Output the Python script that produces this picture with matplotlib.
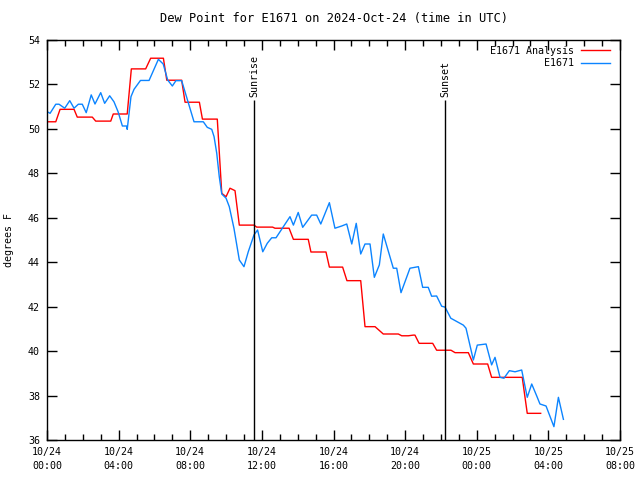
import numpy as np
import pandas as pd
import matplotlib
matplotlib.use("Agg")
import matplotlib.pyplot as plt
import matplotlib.dates as mdates

# Configuration
TITLE = "Dew Point for E1671 on 2024-Oct-24 (time in UTC)"
START = pd.Timestamp("2024-10-24 00:00")
END = pd.Timestamp("2024-10-25 08:00")
Y_MIN, Y_MAX = 36, 54

# Hours after 10/24 00:00 UTC, values in degrees F
analysis_hours = [0.00, 0.49, 0.73, 1.51, 1.69, 2.53, 2.72, 3.56, 3.70, 4.48,
                  4.71, 5.51, 5.79, 6.50, 6.69, 7.52, 7.71, 8.51, 8.68, 9.51,
                  9.76, 10.00, 10.22, 10.50, 10.74, 11.56, 11.71, 12.60, 12.73, 13.52,
                  13.76, 14.59, 14.74, 15.58, 15.77, 16.51, 16.75, 17.52, 17.76, 18.32,
                  18.78, 19.62, 19.81, 20.18, 20.46, 20.55, 20.78, 21.54, 21.76, 22.56,
                  22.79, 23.53, 23.81, 24.61, 24.83, 26.54, 26.82, 27.57]
analysis_vals = [50.32, 50.32, 50.88, 50.88, 50.53, 50.53, 50.35, 50.35, 50.67, 50.67,
                 52.70, 52.70, 53.18, 53.18, 52.19, 52.19, 51.20, 51.20, 50.44, 50.44,
                 47.10, 46.95, 47.33, 47.22, 45.67, 45.67, 45.58, 45.58, 45.53, 45.53,
                 45.03, 45.03, 44.46, 44.46, 43.78, 43.78, 43.17, 43.17, 41.10, 41.10,
                 40.77, 40.77, 40.69, 40.69, 40.72, 40.72, 40.35, 40.35, 40.04, 40.04,
                 39.93, 39.93, 39.42, 39.42, 38.82, 38.82, 37.20, 37.20]

obs_hours = [0.02, 0.17, 0.49, 0.67, 0.99, 1.27, 1.51, 1.75, 1.97, 2.19,
             2.47, 2.68, 3.00, 3.22, 3.50, 3.74, 3.97, 4.21, 4.45, 4.48,
             4.69, 4.86, 5.22, 5.70, 6.22, 6.49, 6.74, 7.00, 7.20, 7.52,
             7.89, 8.21, 8.73, 8.95, 9.20, 9.33, 9.48, 9.62, 9.76, 10.00,
             10.18, 10.44, 10.74, 11.00, 11.24, 11.56, 11.76, 12.05, 12.30, 12.55,
             12.79, 13.57, 13.76, 14.03, 14.28, 14.78, 15.06, 15.29, 15.77, 16.08,
             16.46, 16.74, 17.02, 17.27, 17.52, 17.76, 18.04, 18.28, 18.56, 18.78,
             19.34, 19.53, 19.77, 20.27, 20.74, 20.98, 21.29, 21.48, 21.76, 22.04,
             22.23, 22.55, 23.25, 23.40, 23.81, 24.03, 24.52, 24.83, 25.02, 25.30,
             25.52, 25.82, 26.14, 26.51, 26.82, 27.07, 27.35, 27.53, 27.87, 28.31,
             28.56, 28.84]
obs_vals = [50.77, 50.70, 51.11, 51.11, 50.93, 51.27, 50.93, 51.11, 51.11, 50.73,
            51.53, 51.12, 51.63, 51.15, 51.49, 51.22, 50.77, 50.13, 50.13, 49.98,
            51.45, 51.78, 52.18, 52.18, 53.13, 52.92, 52.20, 51.93, 52.17, 52.17,
            51.18, 50.32, 50.32, 50.07, 49.98, 49.65, 48.90, 47.85, 47.07, 46.88,
            46.50, 45.53, 44.10, 43.80, 44.47, 45.23, 45.45, 44.47, 44.85, 45.10,
            45.10, 46.05, 45.67, 46.24, 45.57, 46.12, 46.12, 45.72, 46.68, 45.53,
            45.63, 45.72, 44.82, 45.75, 44.37, 44.82, 44.82, 43.32, 43.88, 45.27,
            43.73, 43.73, 42.63, 43.73, 43.80, 42.87, 42.87, 42.47, 42.48, 42.02,
            41.98, 41.48, 41.17, 41.03, 39.60, 40.27, 40.32, 39.38, 39.72, 38.82,
            38.78, 39.12, 39.07, 39.15, 37.92, 38.52, 37.98, 37.62, 37.53, 36.60,
            37.92, 36.93]

sun_labels = ["Sunrise", "Sunset"]
sun_hours = [11.56, 22.23]
SUN_LINE_TOP = 51.3

RED = "#ff0000"
BLUE = "#0b84ff"

plt.rcParams["font.family"] = "DejaVu Sans Mono"
plt.rcParams["font.size"] = 7.2

t_analysis = START + pd.to_timedelta(analysis_hours, unit="h")
t_obs = START + pd.to_timedelta(obs_hours, unit="h")
t_sun = START + pd.to_timedelta(sun_hours, unit="h")

fig = plt.figure(figsize=(6.4, 4.8), dpi=100)
ax = fig.add_axes([47 / 640, 40 / 480, 573 / 640, 400 / 480])

ax.plot(t_analysis, analysis_vals, color=RED, lw=1, label="E1671 Analysis")
ax.plot(t_obs, obs_vals, color=BLUE, lw=1, label="E1671")

for t, lab in zip(t_sun, sun_labels):
    ax.vlines(t, Y_MIN, SUN_LINE_TOP, color="black", lw=1)
    ax.text(t, SUN_LINE_TOP + 0.15, lab, rotation=90, ha="center", va="bottom")

ax.set_xlim(START, END)
ax.set_ylim(Y_MIN, Y_MAX)
ax.set_yticks(np.arange(Y_MIN, Y_MAX + 1, 2))

ax.xaxis.set_major_locator(mdates.HourLocator(byhour=range(0, 24, 4)))
ax.xaxis.set_major_formatter(mdates.DateFormatter("%m/%d\n%H:%M"))
ax.xaxis.set_minor_locator(mdates.HourLocator())

ax.tick_params(which="both", direction="in", top=True, right=True, width=1)
ax.tick_params(which="major", length=7, pad=5)
ax.tick_params(which="minor", length=4)
for s in ax.spines.values():
    s.set_linewidth(1)

ax.set_ylabel("degrees F", labelpad=10)
ax.set_title(TITLE, pad=13)

ax.legend(loc="upper right", bbox_to_anchor=(1 - 4 / 573, 1), frameon=False,
          markerfirst=False, handlelength=2.9, borderaxespad=0.2,
          labelspacing=0.25, handletextpad=0.7)

fig.canvas.draw()
for lab in ax.get_xticklabels():
    lab.set_linespacing(1.5)

fig.savefig("out.png", dpi=100)
